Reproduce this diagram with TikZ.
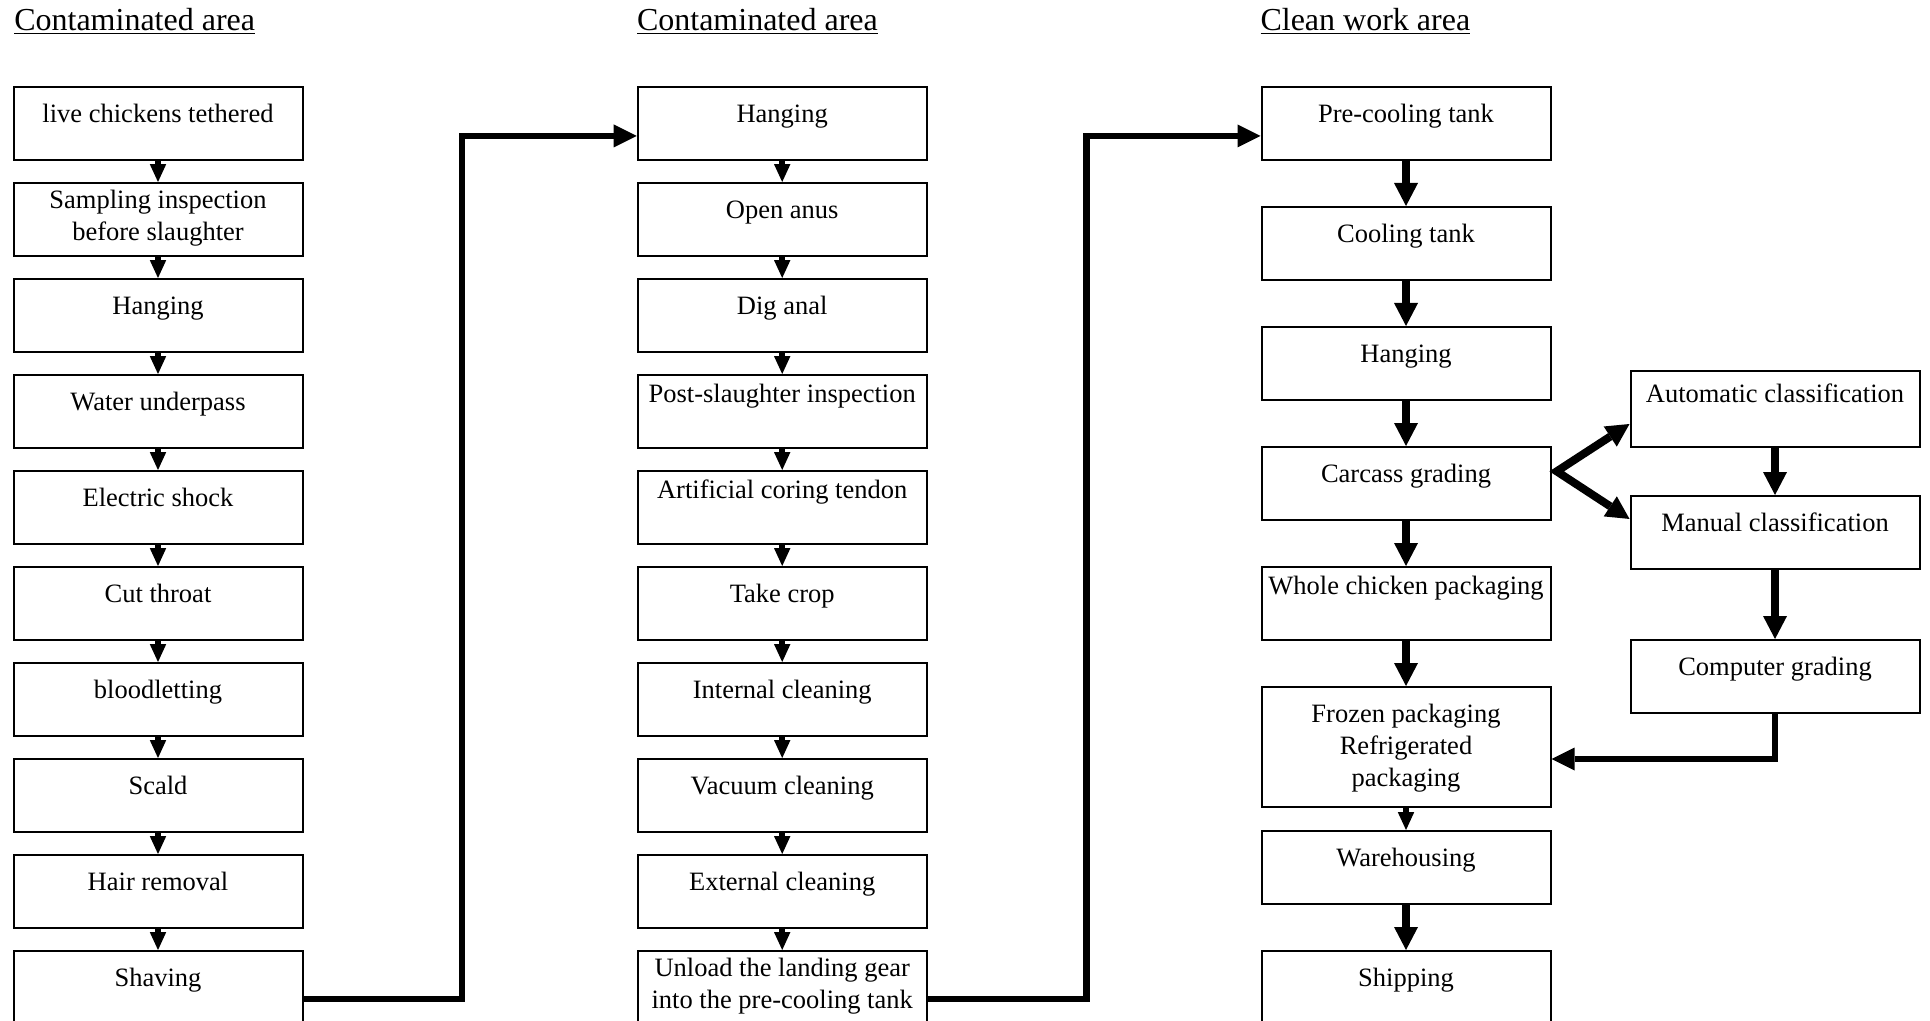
\documentclass[tikz,border=0pt]{standalone}
\usepackage{fontspec}
\setmainfont{Liberation Serif}
\usetikzlibrary{arrows.meta}

\newcommand\stagefont{\fontsize{13.25pt}{16pt}\selectfont}
\newcommand\areafont{\fontsize{16pt}{19pt}\selectfont}
\newcommand\stagelines[1]{\begin{tabular}[t]{@{}c@{}}#1\end{tabular}}

\tikzset{every picture/.style={line width=1pt},
  stage/.style={draw, line width=1pt, inner sep=0pt, anchor=north west, minimum width=144.5pt,
    text height=17.75pt, text depth=18.6pt, font=\stagefont},
  stagehigh/.style={stage, text height=13.5pt, text depth=22.85pt},
  stagetwo/.style={stage, text height=12.75pt, text depth=23.6pt},
  area/.style={anchor=base west, inner sep=0pt, font=\areafont},
  flow/.style={line width=3pt, -{Triangle[length=8.9pt,width=8.2pt,line width=0pt]}},
  bigflow/.style={line width=4pt, -{Triangle[length=11.5pt,width=12pt,line width=0pt]}},
  forkflow/.style={line width=4pt, {Triangle[length=11.5pt,width=12pt,line width=0pt]}-{Triangle[length=11.5pt,width=12pt,line width=0pt]}},
  link/.style={line width=3.25pt, -{Triangle[length=11.5pt,width=11.5pt,line width=0pt]}}
}

\begin{document}
\begin{tikzpicture}[x=0.5pt,y=0.5pt,yscale=-1,xscale=1]
\useasboundingbox (0,0) rectangle (1930,1021);

% Text Node
\draw (13.3,30.7) node [area] (area1) {\underline{Contaminated area}};
% Text Node
\draw (636,30.7) node [area] (area2) {\underline{Contaminated area}};
% Text Node
\draw (1259.5,30.7) node [area] (area3) {\underline{Clean work area}};

%Shape: Rectangle (first column)
\node [stage] (live) at (12.5,86) {live chickens tethered};
\node [stagetwo] (sample) at (12.5,182) {\stagelines{Sampling inspection\\before slaughter}};
\node [stage] (hang1) at (12.5,278) {Hanging};
\node [stage] (water) at (12.5,374) {Water underpass};
\node [stage] (shock) at (12.5,470) {Electric shock};
\node [stage] (throat) at (12.5,566) {Cut throat};
\node [stage] (bleed) at (12.5,662) {bloodletting};
\node [stage] (scald) at (12.5,758) {Scald};
\node [stage] (hair) at (12.5,854) {Hair removal};
\node [stage] (shave) at (12.5,950) {Shaving};

%Shape: Rectangle (second column)
\node [stage] (hang2) at (636.7,86) {Hanging};
\node [stage] (anus) at (636.7,182) {Open anus};
\node [stage] (dig) at (636.7,278) {Dig anal};
\node [stagehigh] (postinsp) at (636.7,374) {Post-slaughter inspection};
\node [stagehigh] (coring) at (636.7,470) {Artificial coring tendon};
\node [stage] (crop) at (636.7,566) {Take crop};
\node [stage] (inclean) at (636.7,662) {Internal cleaning};
\node [stage] (vacuum) at (636.7,758) {Vacuum cleaning};
\node [stage] (exclean) at (636.7,854) {External cleaning};
\node [stagetwo] (unload) at (636.7,950) {\stagelines{Unload the landing gear\\into the pre-cooling tank}};

%Shape: Rectangle (third column)
\node [stage] (precool) at (1260.5,86) {Pre-cooling tank};
\node [stage] (cool) at (1260.5,206) {Cooling tank};
\node [stage] (hang3) at (1260.5,326) {Hanging};
\node [stage] (carcass) at (1260.5,446) {Carcass grading};
\node [stagehigh] (whole) at (1260.5,566) {Whole chicken packaging};
\node [stage, text depth=42.25pt] (frozen) at (1260.5,686) {\stagelines{Frozen packaging\\Refrigerated\\packaging}};
\node [stage] (house) at (1260.5,830) {Warehousing};
\node [stage] (ship) at (1260.5,950) {Shipping};

%Shape: Rectangle (grading branch)
\node [stage, text height=15.5pt, text depth=22.5pt] (auto) at (1629.5,370) {Automatic classification};
\node [stage] (manual) at (1629.5,495) {Manual classification};
\node [stage] (computer) at (1629.5,639) {Computer grading};

%Straight Lines
\draw [flow] (live.south) -- (sample.north);
\draw [flow] (sample.south) -- (hang1.north);
\draw [flow] (hang1.south) -- (water.north);
\draw [flow] (water.south) -- (shock.north);
\draw [flow] (shock.south) -- (throat.north);
\draw [flow] (throat.south) -- (bleed.north);
\draw [flow] (bleed.south) -- (scald.north);
\draw [flow] (scald.south) -- (hair.north);
\draw [flow] (hair.south) -- (shave.north);

\draw [flow] (hang2.south) -- (anus.north);
\draw [flow] (anus.south) -- (dig.north);
\draw [flow] (dig.south) -- (postinsp.north);
\draw [flow] (postinsp.south) -- (coring.north);
\draw [flow] (coring.south) -- (crop.north);
\draw [flow] (crop.south) -- (inclean.north);
\draw [flow] (inclean.south) -- (vacuum.north);
\draw [flow] (vacuum.south) -- (exclean.north);
\draw [flow] (exclean.south) -- (unload.north);

\draw [bigflow] (precool.south) -- (cool.north);
\draw [bigflow] (cool.south) -- (hang3.north);
\draw [bigflow] (hang3.south) -- (carcass.north);
\draw [bigflow] (carcass.south) -- (whole.north);
\draw [bigflow] (whole.south) -- (frozen.north);
\draw [flow] (frozen.south) -- (house.north);
\draw [bigflow] (house.south) -- (ship.north);

% shifts below are flipped by yscale=-1 (positive = down)
\draw [forkflow] ([yshift=7.5pt]auto.west) -- ([xshift=2.6pt,yshift=-6pt]carcass.east) -- ([yshift=-6.7pt]manual.west);
\draw [bigflow] (auto.south) -- (manual.north);
\draw [bigflow] (manual.south) -- (computer.north);

%Elbow Lines
\draw [link] ([yshift=5.8pt]shave.east) -- ++(158.5,0) |- ([yshift=6.3pt]hang2.west);
\draw [link] ([yshift=5.8pt]unload.east) -- ++(159,0) |- ([yshift=6.3pt]precool.west);
\draw [link] (computer.south) |- ([yshift=6pt]frozen.east);

\end{tikzpicture}
\end{document}
